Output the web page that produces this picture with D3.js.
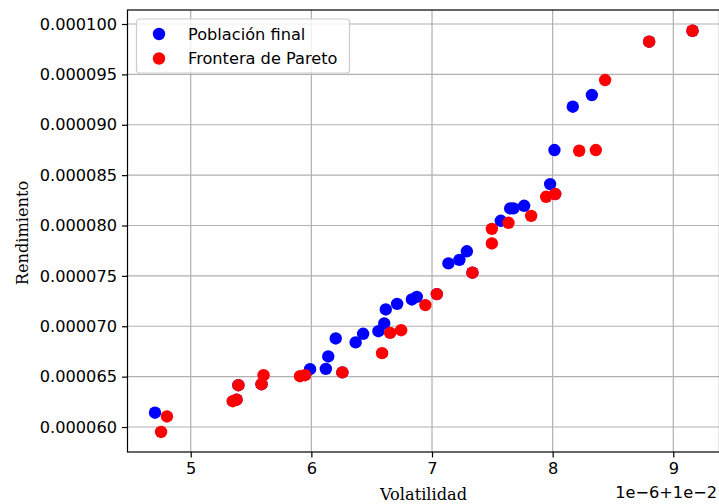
<!DOCTYPE html>
<html>
<head>
<meta charset="utf-8">
<style>
  body { margin: 0; background: #fff; }
  svg { display: block; }
</style>
</head>
<body>
<div id="scatter"></div>

<script src="https://cdn.jsdelivr.net/npm/d3@7/dist/d3.min.js"></script>
<script>
// volatility shown as offset above 0.01, in units of 1e-6 (like matplotlib's "1e-6+1e-2")
var popVol = [9.159, 8.800, 8.325, 8.167, 8.015, 7.979, 8.021, 7.675, 7.648, 7.764,
              7.570, 7.289, 7.227, 7.136, 7.335, 7.040, 6.874, 6.833, 6.711, 6.617,
              6.604, 6.556, 6.429, 6.367, 6.202, 6.140, 6.120, 5.989, 6.257, 5.587,
              5.395, 5.380, 4.704]
var popRet = [0.00009933, 0.00009824, 0.00009295, 0.00009179, 0.00008749, 0.00008411, 0.00008312, 0.00008170, 0.00008170, 0.00008196,
              0.00008047, 0.00007744, 0.00007659, 0.00007624, 0.00007532, 0.00007319, 0.00007292, 0.00007266, 0.00007222, 0.00007167,
              0.00007028, 0.00006951, 0.00006925, 0.00006840, 0.00006879, 0.00006700, 0.00006577, 0.00006574, 0.00006542, 0.00006425,
              0.00006415, 0.00006271, 0.00006142]

var paretoVol = [9.159, 8.800, 8.435, 8.220, 8.358, 7.946, 8.021, 7.822, 7.634, 7.496,
                 7.496, 7.335, 7.040, 6.945, 6.744, 6.653, 6.586, 6.257, 5.948, 5.906,
                 5.604, 5.587, 5.395, 5.380, 5.348, 4.803, 4.754]
var paretoRet = [0.00009933, 0.00009824, 0.00009444, 0.00008742, 0.00008749, 0.00008285, 0.00008312, 0.00008096, 0.00008027, 0.00007967,
                 0.00007822, 0.00007532, 0.00007319, 0.00007210, 0.00006961, 0.00006934, 0.00006733, 0.00006542, 0.00006514, 0.00006504,
                 0.00006514, 0.00006425, 0.00006415, 0.00006271, 0.00006256, 0.00006105, 0.00005951]

var xTicks = [5, 6, 7, 8, 9]
var yTicks = [0.000060, 0.000065, 0.000070, 0.000075, 0.000080, 0.000085, 0.000090, 0.000095, 0.000100]
var legendLabels = ["Población final", "Frontera de Pareto"]
var colors = ["#0000ff", "#ff0000"]

var W = 719, H = 504
var margin = {top: 10, right: -0.5, bottom: 52, left: 127.5}
var width = W - margin.left - margin.right
var height = H - margin.top - margin.bottom
var fs = "16.2px"

var svg = d3.select("#scatter")
  .append("svg")
  .attr("width", W)
  .attr("height", H)

var g = svg.append("g")
  .attr("transform", "translate(" + margin.left + "," + margin.top + ")")

var x = d3.scaleLinear().domain([4.476, 9.383]).range([0, width])
var y = d3.scaleLinear().domain([0.00005752, 0.00010139]).range([height, 0])

// grid
g.append("g").selectAll("line").data(xTicks).enter().append("line")
  .attr("x1", d => x(d)).attr("x2", d => x(d))
  .attr("y1", 0).attr("y2", height)
  .attr("stroke", "#b0b0b0").attr("stroke-width", 1.2)
g.append("g").selectAll("line").data(yTicks).enter().append("line")
  .attr("x1", 0).attr("x2", width)
  .attr("y1", d => y(d)).attr("y2", d => y(d))
  .attr("stroke", "#b0b0b0").attr("stroke-width", 1.2)

// axes
var xAxis = d3.axisBottom(x).tickValues(xTicks).tickFormat(d3.format("d")).tickSizeOuter(0).tickSize(5.5).tickPadding(5)
var yAxis = d3.axisLeft(y).tickValues(yTicks).tickFormat(d => d.toFixed(6)).tickSizeOuter(0).tickSize(5.5).tickPadding(5)

var gx = g.append("g").attr("transform", "translate(0," + height + ")").call(xAxis)
var gy = g.append("g").call(yAxis)
;[gx, gy].forEach(function(a) {
  a.select(".domain").remove()
  a.selectAll("line").attr("stroke", "#000").attr("stroke-width", 1.2)
  a.selectAll("text").attr("fill", "#000")
    .style("font-family", "DejaVu Sans").style("font-size", fs)
})

// spines
g.append("rect")
  .attr("x", 0).attr("y", 0).attr("width", width).attr("height", height)
  .attr("fill", "none").attr("stroke", "#000").attr("stroke-width", 1.2)

// points
g.append("g").selectAll("circle").data(d3.range(popVol.length)).enter().append("circle")
  .attr("cx", i => x(popVol[i])).attr("cy", i => y(popRet[i]))
  .attr("r", 6.2).attr("fill", colors[0])
g.append("g").selectAll("circle").data(d3.range(paretoVol.length)).enter().append("circle")
  .attr("cx", i => x(paretoVol[i])).attr("cy", i => y(paretoRet[i]))
  .attr("r", 6.2).attr("fill", colors[1])

// labels
svg.append("text").attr("x", margin.left + width / 2).attr("y", 499.5)
  .attr("text-anchor", "middle")
  .style("font-family", "DejaVu Serif").style("font-size", fs)
  .text("Volatilidad")
svg.append("text")
  .attr("transform", "translate(27.5," + (margin.top + height / 2 + 2) + ") rotate(-90)")
  .attr("text-anchor", "middle")
  .style("font-family", "DejaVu Serif").style("font-size", fs)
  .text("Rendimiento")
svg.append("text").attr("x", 717).attr("y", 497.5)
  .attr("text-anchor", "end")
  .style("font-family", "DejaVu Sans").style("font-size", fs)
  .text("1e\u22126+1e\u22122")

// legend
var leg = svg.append("g").attr("transform", "translate(136.5,19)")
leg.append("rect").attr("width", 213).attr("height", 54).attr("rx", 3)
  .attr("fill", "#fff").attr("fill-opacity", 0.8)
  .attr("stroke", "#cccccc").attr("stroke-width", 1.2)
legendLabels.forEach(function(t, i) {
  leg.append("circle").attr("cx", 22.5).attr("cy", 15 + i * 24.5).attr("r", 6.2).attr("fill", colors[i])
  leg.append("text").attr("x", 51.5).attr("y", 15 + i * 24.5).attr("dy", "0.35em")
    .style("font-family", "DejaVu Sans").style("font-size", fs)
    .text(t)
})
</script>
</body>
</html>
